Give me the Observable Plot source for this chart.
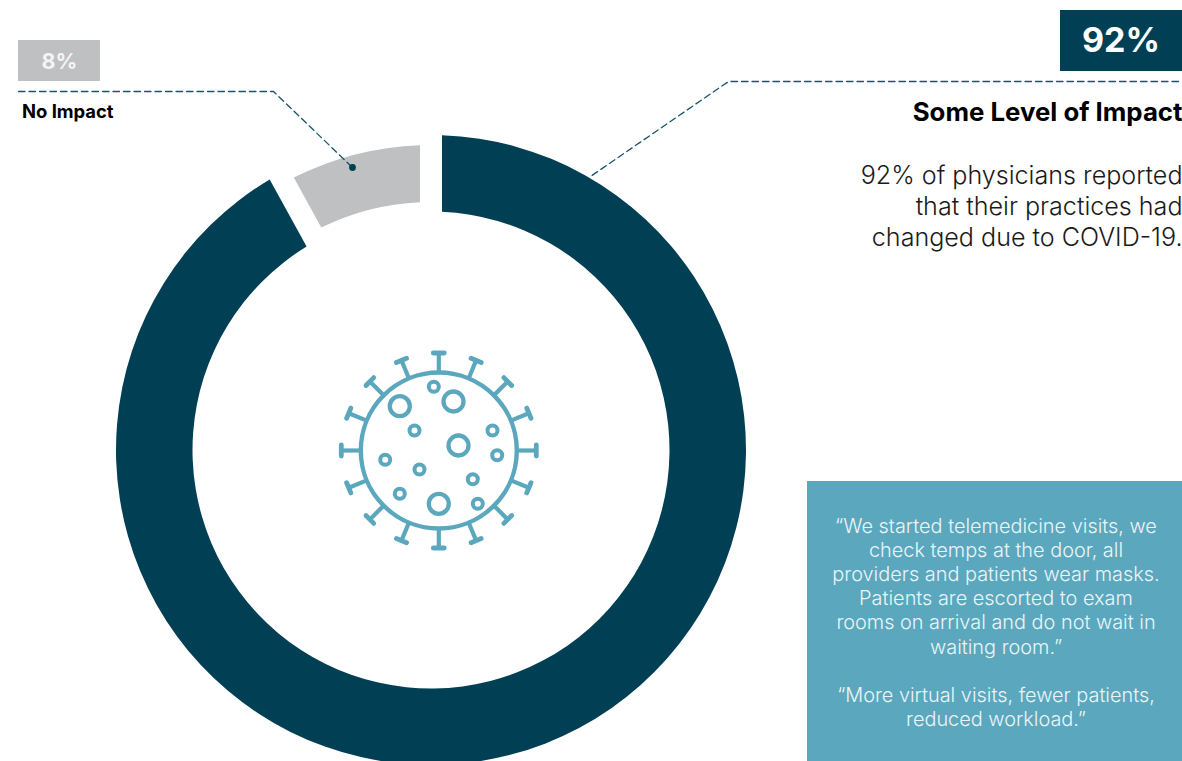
<!DOCTYPE html>
<html>
<head>
<meta charset="utf-8">
<script src="https://cdn.jsdelivr.net/npm/d3@7"></script>
<script src="https://cdn.jsdelivr.net/npm/@observablehq/plot@0.6"></script>
<style>html,body{margin:0;padding:0;background:#fff;overflow:hidden}svg{display:block}</style>
</head>
<body>
<div id="chart"></div>
<script>
// Data
const categories = ["Some Level of Impact", "No Impact"];
const shares = [92, 8];
const shareLabels = ["92%", "8%"];
const bodyLines = ["92% of physicians reported", "that their practices had", "changed due to COVID-19."];
const quoteLines = [
  "“We started telemedicine visits, we",
  "check temps at the door, all",
  "providers and patients wear masks.",
  "Patients are escorted to exam",
  "rooms on arrival and do not wait in",
  "waiting room.”",
  "",
  "“More virtual visits, fewer patients,",
  "reduced workload.”"
];

// Styles and layout
const DARK = "#003f54", GREY = "#bfc0c2", TEAL = "#5ba7bd", LEADER = "#175468";
const FONT = "Inter, 'Noto Sans', sans-serif";
const W = 1182, H = 761;
const cx = 431, cy = 450;
const sliceColors = [DARK, GREY];
const sliceRadii = [[238.5, 315], [248, 305]];
const gapPx = 22;

const boxes = [
  {x1: 1060, x2: 1182, y1: 10, y2: 71, fill: DARK},
  {x1: 18, x2: 100, y1: 40, y2: 81, fill: GREY},
  {x1: 807, x2: 1182, y1: 481, y2: 761, fill: TEAL}
];
const leaderLeft = [[18, 91], [273, 91], [352, 167]];
const leaderRight = [[1178, 81], [728, 81], [590, 176]];

// Virus icon
const vx = 438.3, vy = 450, vR = 78;
const spikeAngles = d3.range(16).map(i => i * 22.5 * Math.PI / 180);
const spikes = spikeAngles.map(a => ({
  x1: vx + vR * Math.sin(a), y1: vy - vR * Math.cos(a),
  x2: vx + 97.5 * Math.sin(a), y2: vy - 97.5 * Math.cos(a)
}));
const spikeCaps = spikeAngles.map(a => {
  const mx = vx + 97.5 * Math.sin(a), my = vy - 97.5 * Math.cos(a), h = 5.5;
  return {x1: mx - h * Math.cos(a), y1: my - h * Math.sin(a), x2: mx + h * Math.cos(a), y2: my + h * Math.sin(a)};
});
const bigRings = [[399.3, 405.7], [453, 401], [458, 445], [438.3, 503.3]];
const smallRings = [[433.3, 386.3], [414, 430], [492, 430], [496.7, 454.7], [384.7, 459.3], [419, 469], [472.3, 478.7], [399.3, 493.3], [477.3, 503.3]];

// Donut slices: a render-function mark through Plot's own x and y scales
const pie = d3.pie().sort(null).startAngle(0).endAngle(2 * Math.PI)(shares);
function donut(index, scales) {
  const ox = scales.x(cx), oy = scales.y(cy);
  const k = scales.x(1) - scales.x(0);
  const g = d3.create("svg:g").attr("transform", `translate(${ox},${oy})`);
  const pad = 0.04;
  pie.forEach((s, i) => {
    const arc = d3.arc()
      .innerRadius(sliceRadii[i][0] * k)
      .outerRadius(sliceRadii[i][1] * k)
      .padAngle(pad)
      .padRadius(gapPx * k / pad);
    g.append("path").attr("d", arc(s)).attr("fill", sliceColors[i])
      .append("title").text(`${categories[i]}: ${shareLabels[i]}`);
  });
  return g.node();
}

const textRow = (str, x, y, opts) => Plot.text([str], {x: () => x, y: () => y, text: d => d, lineAnchor: "bottom", ...opts});

const plot = Plot.plot({
  width: W, height: H,
  margin: 0,
  style: {fontFamily: FONT, background: "#fff"},
  x: {domain: [0, W], range: [0, W], axis: null},
  y: {domain: [0, H], range: [0, H], axis: null},
  marks: [
    Plot.rect(boxes, {x1: "x1", x2: "x2", y1: "y1", y2: "y2", fill: "fill", inset: 0}),
    donut,
    Plot.line(leaderLeft, {x: d => d[0], y: d => d[1], stroke: LEADER, strokeWidth: 1.3, strokeDasharray: "6.5 4"}),
    Plot.line(leaderRight, {x: d => d[0], y: d => d[1], stroke: LEADER, strokeWidth: 1.3, strokeDasharray: "6.5 4"}),
    Plot.dot([leaderLeft[2]], {x: d => d[0], y: d => d[1], r: 3.4, fill: DARK, stroke: null}),
    // Virus
    Plot.dot([[vx, vy]], {x: d => d[0], y: d => d[1], r: vR, stroke: TEAL, strokeWidth: 4.4, fill: "none"}),
    Plot.link(spikes, {x1: "x1", y1: "y1", x2: "x2", y2: "y2", stroke: TEAL, strokeWidth: 4.2}),
    Plot.link(spikeCaps, {x1: "x1", y1: "y1", x2: "x2", y2: "y2", stroke: TEAL, strokeWidth: 4.8, strokeLinecap: "round"}),
    Plot.dot(bigRings, {x: d => d[0], y: d => d[1], r: 10, stroke: TEAL, strokeWidth: 4.3, fill: "none"}),
    Plot.dot(smallRings, {x: d => d[0], y: d => d[1], r: 5, stroke: TEAL, strokeWidth: 4, fill: "none"}),
    // Text
    textRow(shareLabels[0], 1120.5, 51.5, {fill: "#fff", fontSize: 34, fontWeight: 700, textAnchor: "middle"}),
    textRow(shareLabels[1], 59, 68, {fill: "#f4f4f4", fontSize: 21.5, fontWeight: 700, textAnchor: "middle"}),
    textRow(categories[1], 21.5, 117.5, {fill: "#000", fontSize: 18.4, fontWeight: 700, textAnchor: "start"}),
    textRow(categories[0], 1182, 120, {fill: "#000", fontSize: 25.8, fontWeight: 700, textAnchor: "end"}),
    ...bodyLines.map((l, i) => textRow(l, 1182, 183.5 + i * 31, {fill: "#1a1a1a", fontSize: 25.1, fontWeight: 300, textAnchor: "end"})),
    ...quoteLines.map((l, i) => textRow(l, 995.5, 532 + i * 24.2, {fill: "#eaf5f8", fontSize: 19.9, fontWeight: 300, textAnchor: "middle"}))
  ]
});
document.getElementById("chart").append(plot);
</script>
</body>
</html>
